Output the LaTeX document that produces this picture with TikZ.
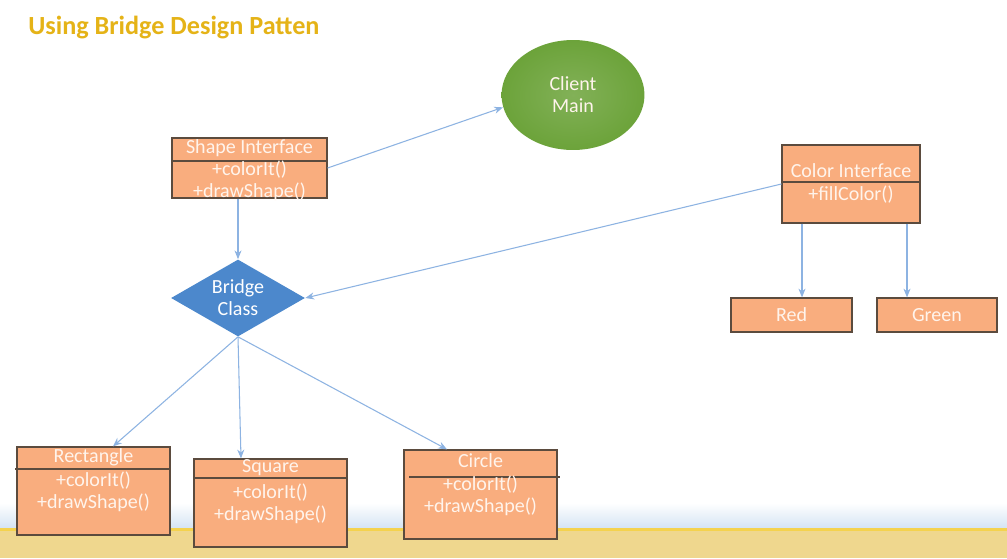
\documentclass[tikz,border=0pt]{standalone}
\usepackage{fontspec}
\setmainfont{Carlito}
\usetikzlibrary{shapes.geometric,arrows.meta,positioning,fit}
\definecolor{boxfill}{HTML}{F9AD7E}
\definecolor{boxline}{HTML}{5B4B3E}
\definecolor{boxtext}{HTML}{FFF4EC}
\definecolor{linkblue}{HTML}{8DB3E2}
\definecolor{titlegold}{HTML}{E5B317}
\definecolor{clientgreen}{HTML}{6CA33A}
\definecolor{bridgeblue}{HTML}{4C88CC}
\definecolor{bandblue}{HTML}{D3E3F3}
\definecolor{bandyellow}{HTML}{EFD78E}
\definecolor{bandline}{HTML}{F4D24E}

\tikzset{
    umlbox/.style={draw=boxline, fill=boxfill, line width=0.7pt, inner sep=0pt},
    umltext/.style={text=boxtext, font=\fontsize{11.4}{12.6}\selectfont, align=center, inner sep=0pt},
    umlsep/.style={draw=boxline, line width=1pt},
    link/.style={draw=linkblue, line width=0.6pt, -{Stealth[length=5pt,width=4pt]}}
}

\begin{document}
\begin{tikzpicture}[x=0.02cm,y=-0.02cm]
    % Slide background
    \fill[white] (0,0) rectangle (1007,558);
    \shade[top color=white, bottom color=bandblue] (0,503) rectangle (1007,529);
    \fill[bandyellow] (0,529) rectangle (1007,558);
    \fill[bandline] (0,528) rectangle (1007,531);

    % Title
    \node[anchor=west, text=titlegold, font=\fontsize{14.9}{17}\selectfont\bfseries, inner sep=0pt] (title) at (28,28) {Using Bridge Design Patten};

    % Client
    \node[ellipse, inner color=clientgreen!85!white, outer color=clientgreen, minimum width=2.86cm, minimum height=2.2cm, inner sep=0pt,
          text=boxtext, font=\fontsize{11.4}{12.6}\selectfont, align=center] (client) at (573,95) {Client\\Main};

    % Shape interface
    \node[umlbox, fit={(172,138) (327,198)}] (shapeif) {};
    \draw[umlsep] (shapeif.west |- 0,161) -- (shapeif.east |- 0,161);
    \node[umltext] (shapeifhead) at (249.5,148) {Shape Interface};
    \node[umltext] (shapeifbody) at (249.5,181) {+colorIt()\\+drawShape()};

    % Color interface
    \node[umlbox, fit={(782,145) (920,223)}] (colorif) {};
    \draw[umlsep] (colorif.west |- 0,182) -- (colorif.east |- 0,182);
    \node[umltext] (colorifhead) at (851,171) {Color Interface};
    \node[umltext] (colorifbody) at (851,195) {+fillColor()};

    % Colors
    \node[umlbox, fit={(731,298) (852,332)}] (red) {};
    \node[umltext] (redtext) at (red.center) {Red};
    \node[umlbox, fit={(877,298) (997,332)}] (green) {};
    \node[umltext] (greentext) at (green.center) {Green};

    % Bridge
    \node[diamond, aspect=1.74, fill=bridgeblue, minimum width=2.68cm, minimum height=1.54cm, inner sep=0pt,
          text=white, font=\fontsize{11.4}{12.6}\selectfont, align=center] (bridge) at (238,298) {Bridge\\Class};

    % Concrete shapes
    \node[umlbox, fit={(17,447) (170,535)}] (rectbox) {};
    \draw[umlsep] (15,469) -- (rectbox.east |- 0,469);
    \node[umltext] (recthead) at (93.5,457) {Rectangle};
    \node[umltext] (rectbody) at (93.5,491.5) {+colorIt()\\+drawShape()};

    \node[umlbox, fit={(194,459) (347,547)}] (sqbox) {};
    \draw[umlsep] (sqbox.west |- 0,478) -- (sqbox.east |- 0,478);
    \node[umltext] (sqhead) at (270.5,468) {Square};
    \node[umltext] (sqbody) at (270.5,504) {+colorIt()\\+drawShape()};

    \node[umlbox, fit={(404,450) (557,539)}] (circbox) {};
    \draw[umlsep] (409,477) -- (560,477);
    \node[umltext] (circhead) at (480.5,461) {Circle};
    \node[umltext] (circbody) at (480.5,496) {+colorIt()\\+drawShape()};

    % Links
    \draw[link] (shapeif.east) -- (client.190);
    \draw[link] (shapeif.south -| bridge.north) -- (bridge.north);
    \draw[link] (colorif.west) -- (bridge.east);
    \draw[link] (colorif.south -| 802,0) -- (red.north -| 802,0);
    \draw[link] (colorif.south -| 907,0) -- (green.north -| 907,0);
    \draw[link] (bridge.south) -- (rectbox.north -| 113,0);
    \draw[link] (bridge.south) -- (sqbox.north -| 241,0);
    \draw[link] (bridge.south) -- (circbox.north -| 447,0);
\end{tikzpicture}
\end{document}
